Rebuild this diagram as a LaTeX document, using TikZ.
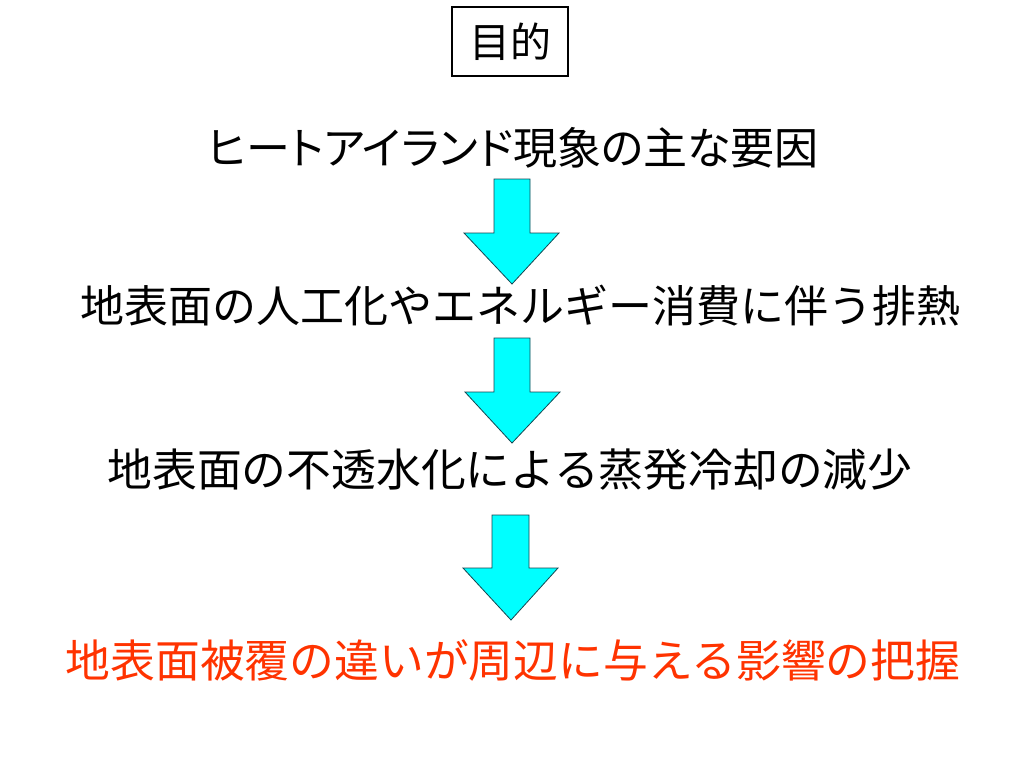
\documentclass[tikz,border=0pt]{standalone}
\usepackage{fontspec}
\setmainfont{Noto Sans CJK JP}
\newfontfamily\jpprop[RawFeature=+palt]{Noto Sans CJK JP}
\definecolor{arrowfill}{RGB}{0,255,255}
\definecolor{arrowline}{RGB}{20,70,80}
\definecolor{redtext}{RGB}{255,51,0}
\tikzset{
  line/.style={font=\fontsize{44}{50}\selectfont, inner sep=0pt, anchor=center},
  widerline/.style={font=\fontsize{44.8}{50}\selectfont, inner sep=0pt, anchor=center},
  downarrow/.style={fill=arrowfill, draw=arrowline, line width=0.8pt, line join=miter},
}
\begin{document}
\begin{tikzpicture}[x=1pt,y=-1pt]
\useasboundingbox[fill=white] (0,0) rectangle (1024,768);
\node[draw, line width=1.8pt, minimum width=116pt, minimum height=69pt, inner sep=0pt, font=\fontsize{41}{46}\selectfont] (title) at (510,41.5) {目的};
\node[line, font=\jpprop\fontsize{44}{50}\selectfont] (l1) at (513,148) {ヒートアイランド現象の主な要因};
\node[line] (l2) at (520,306) {地表面の人工化やエネルギー消費に伴う排熱};
\node[widerline] (l3) at (510,470) {地表面の不透水化による蒸発冷却の減少};
\node[widerline, text=redtext] (l4) at (513,660) {地表面被覆の違いが周辺に与える影響の把握};
% arrows
\draw[downarrow] (494,179) -- (530,179) -- (530,233) -- (559,233) -- (512,284) -- (464,233) -- (494,233) -- cycle;
\draw[downarrow] (494,338) -- (530,338) -- (530,392) -- (560,392) -- (512,443) -- (465,392) -- (494,392) -- cycle;
\draw[downarrow] (492,515) -- (529,515) -- (529,568) -- (558,568) -- (511,620) -- (463,568) -- (492,568) -- cycle;
\end{tikzpicture}
\end{document}
